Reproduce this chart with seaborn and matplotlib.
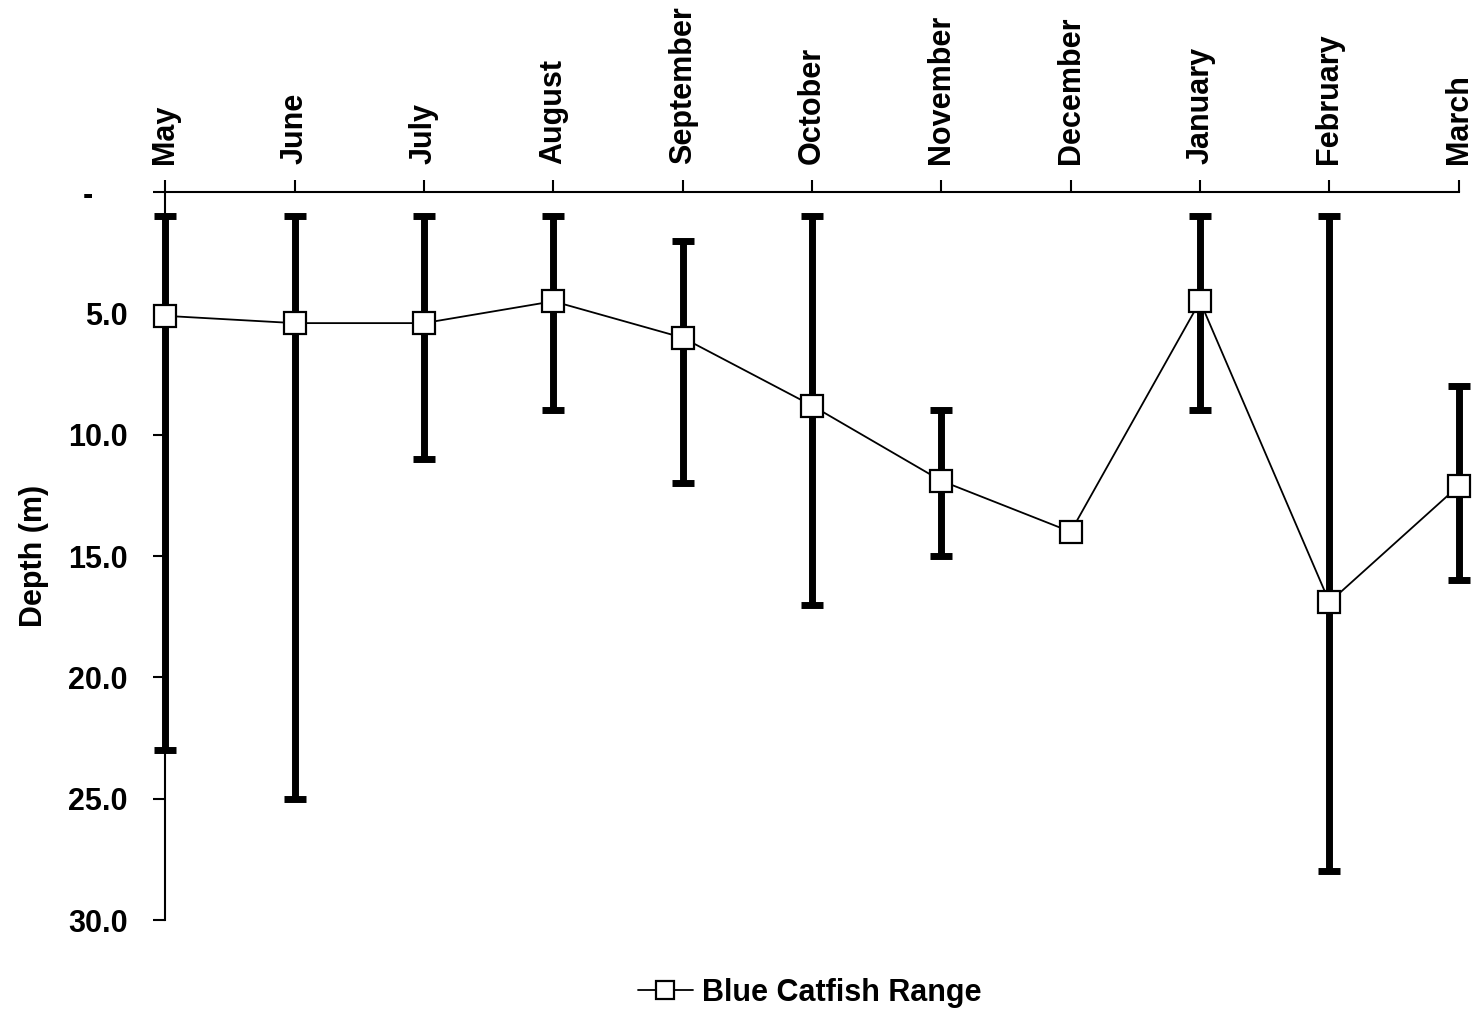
import numpy as np
import pandas as pd
import matplotlib
matplotlib.use("Agg")
import matplotlib.pyplot as plt
import seaborn as sns

# Monthly depth data (m)
months = ["May", "June", "July", "August", "September", "October",
          "November", "December", "January", "February", "March"]
mean_depth = [5.1, 5.4, 5.4, 4.5, 6.0, 8.8, 11.9, 14.0, 4.5, 16.9, 12.1]
min_depth = [1, 1, 1, 1, 2, 1, 9, np.nan, 1, 1, 8]
max_depth = [23, 25, 11, 9, 12, 17, 15, np.nan, 9, 28, 16]
y_ticks = [0, 5, 10, 15, 20, 25, 30]

df = pd.DataFrame({"month": months, "mean": mean_depth,
                   "lo": min_depth, "hi": max_depth})
df["pos"] = np.arange(len(df))

sns.set_style("white")
plt.rcParams["font.family"] = ["Liberation Sans", "DejaVu Sans"]
plt.rcParams["font.weight"] = "bold"
for key in ["text.color", "axes.labelcolor", "xtick.color", "ytick.color"]:
    plt.rcParams[key] = "black"

fig, ax = plt.subplots(figsize=(14.75, 10.11), dpi=100)
fig.subplots_adjust(left=0.112, right=0.989, top=0.810, bottom=0.090)

# range bars (min to max depth)
rng = df.dropna(subset=["lo", "hi"])
eb = ax.errorbar(rng["pos"], rng["mean"],
                 yerr=[rng["mean"] - rng["lo"], rng["hi"] - rng["mean"]],
                 fmt="none", ecolor="black", elinewidth=5, capsize=8,
                 capthick=5, zorder=2)
for art in eb.lines[1] + eb.lines[2]:
    art.set_clip_on(False)
for cap in eb.lines[1]:
    cap.set_solid_capstyle("round")

# mean line with squares
sns.lineplot(data=df, x="pos", y="mean", ax=ax, color="black", linewidth=1.3,
             marker="s", markersize=16, markerfacecolor="white",
             markeredgecolor="black", markeredgewidth=1.6,
             label="Blue Catfish Range", legend=False, zorder=3, clip_on=False)

ax.set_xlim(0, len(df) - 1)
ax.set_ylim(30, 0)
ax.xaxis.tick_top()
ax.set_xticks(df["pos"])
ax.set_xticklabels(df["month"], rotation=90, fontsize=22, fontweight="bold")
ax.set_yticks(y_ticks)
ax.set_yticklabels(["-    "] + [f"{v:.1f}" for v in y_ticks[1:]],
                   fontsize=22, fontweight="bold")
ax.tick_params(axis="x", direction="out", length=9, width=1.5, pad=11,
               top=True, bottom=False)
ax.tick_params(axis="y", direction="out", length=9, width=1.5, pad=18, left=True)
ax.set_xlabel("")
ax.set_ylabel("Depth (m)", fontsize=22, fontweight="bold", labelpad=14)

for side in ["right", "bottom"]:
    ax.spines[side].set_visible(False)
for side in ["left", "top"]:
    ax.spines[side].set_linewidth(1.5)
    ax.spines[side].set_color("black")

handles, labels = ax.get_legend_handles_labels()
fig.legend(handles, labels, loc="lower center", bbox_to_anchor=(0.549, -0.024),
           frameon=False, prop={"size": 22, "weight": "bold"},
           handlelength=1.8, handletextpad=0.3, markerscale=0.85)

fig.savefig("out.png", dpi=100)
